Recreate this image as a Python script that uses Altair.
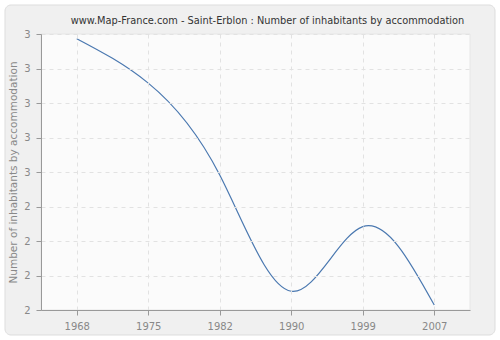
import altair as alt
import pandas as pd

years = ["1968", "1975", "1982", "1990", "1999", "2007"]
values = [2.983, 2.822, 2.489, 2.068, 2.302, 2.018]
y_ticks = [2.0, 2.125, 2.25, 2.375, 2.5, 2.625, 2.75, 2.875, 3.0]

df = pd.DataFrame({"year": years, "value": values})

frame = alt.Chart(pd.DataFrame({"a": [0]})).mark_rect(
    fill="#f0f0f0", stroke="#dddddd", strokeWidth=1, cornerRadius=6
).encode(
    x=alt.value(-36), x2=alt.value(454), y=alt.value(-29), y2=alt.value(301)
)

plotbg = alt.Chart(pd.DataFrame({"a": [0]})).mark_rect(
    fill="#fbfbfb", stroke="#e6e6e6", strokeWidth=1
).encode(
    x=alt.value(0), x2=alt.value(429), y=alt.value(0), y2=alt.value(276)
)

line = alt.Chart(df).mark_line(
    color="#4a78b0", strokeWidth=1.2, interpolate="natural"
).encode(
    x=alt.X("year:O", sort=years, scale=alt.Scale(type="point", padding=0.5),
            axis=alt.Axis(title=None, labelAngle=0, grid=True, gridDash=[4, 4],
                          gridColor="#e2e2e2", domainColor="#999999",
                          tickColor="#999999", tickSize=5, labelColor="#888888",
                          labelFontSize=10, labelPadding=6, labelFont="DejaVu Sans",
                          zindex=1)),
    y=alt.Y("value:Q", scale=alt.Scale(domain=[2, 3], nice=False, zero=False),
            axis=alt.Axis(title="Number of inhabitants by accommodation", values=y_ticks,
                          format=".0f", grid=True, gridDash=[4, 4], gridColor="#e2e2e2",
                          domainColor="#999999", tickColor="#999999", tickSize=5,
                          labelColor="#888888", labelFontSize=10, labelPadding=6,
                          labelFont="DejaVu Sans", titleColor="#888888",
                          titleFontSize=10.5, titleFontWeight="normal",
                          titleFont="DejaVu Sans", titlePadding=5, zindex=1)),
)

chart = alt.layer(frame, plotbg, line).properties(
    width=429, height=276,
    padding={"left": 41, "top": 34, "right": 30, "bottom": 30},
    autosize=alt.AutoSizeParams(type="none"),
    background="white",
    title=alt.Title("www.Map-France.com - Saint-Erblon : Number of inhabitants by accommodation",
                    fontSize=9.8, fontWeight="normal", color="#333333", font="DejaVu Sans",
                    anchor="middle", dx=12, offset=-21, zindex=2),
).configure_view(stroke=None)

chart.save("out.html", embed_options={"renderer": "svg", "actions": False})
